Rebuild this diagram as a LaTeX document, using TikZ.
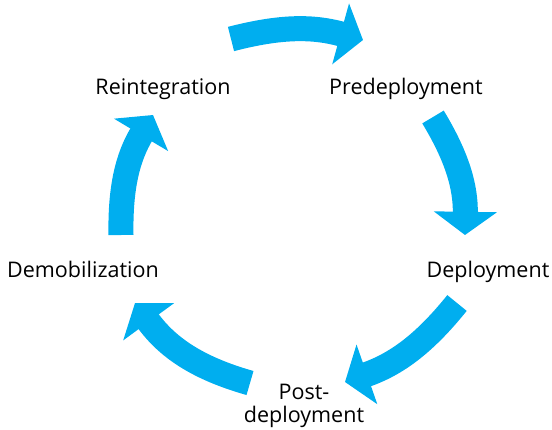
\documentclass[tikz,border=0pt]{standalone}
\usepackage{fontspec}
\setmainfont{Open Sans}
\usetikzlibrary{arrows.meta,positioning}
\definecolor{cycleblue}{RGB}{0,174,239}

\begin{document}
\begin{tikzpicture}[x=0.025cm, y=-0.025cm,
    phase/.style={font=\fontsize{15.3}{16}\selectfont, align=center, inner sep=0pt},
    cyclearrow/.style={draw=cycleblue, line width=0.625cm, -{Triangle[width=1.55cm, length=0.58cm]}}]
    \useasboundingbox (0,0) rectangle (552,429);

    % stages
    \node[phase, anchor=base] (reint) at (163,94) {Reintegration};
    \node[phase, anchor=base] (predep) at (406,94) {Predeployment};
    \node[phase, anchor=base] (deploy) at (488,277) {Deployment};
    \node[phase, anchor=base] (demob) at (83,277) {Demobilization};
    \node[phase] (postdep) at (304,406) {Post-\\deployment};

    % arrow ends
    \coordinate (topS) at (231,39);   \coordinate (topE) at (363,40);
    \coordinate (rightS) at (433,117); \coordinate (rightE) at (465,235);
    \coordinate (lowrS) at (457,303); \coordinate (lowrE) at (345,382);
    \coordinate (lowlS) at (250,383); \coordinate (lowlE) at (135,303);
    \coordinate (leftS) at (121,235); \coordinate (leftE) at (153,115);

    \draw[cyclearrow] (topS) to[bend left=15] (topE);
    \draw[cyclearrow] (rightS) to[bend left=16] (rightE);
    \draw[cyclearrow] (lowrS) to[bend left=16] (lowrE);
    \draw[cyclearrow] (lowlS) to[bend left=19] (lowlE);
    \draw[cyclearrow] (leftS) to[bend left=16] (leftE);
\end{tikzpicture}
\end{document}
